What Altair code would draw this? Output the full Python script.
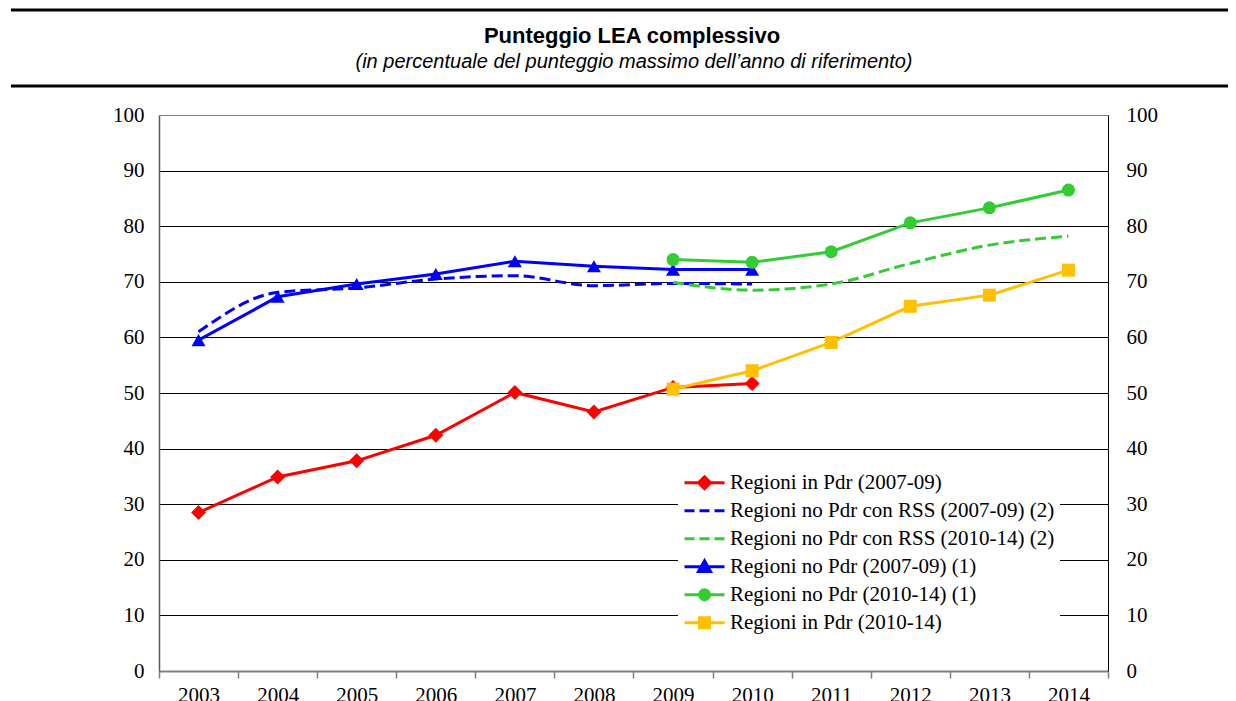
import altair as alt
import pandas as pd

# ---------------- data ----------------
years = ["2003", "2004", "2005", "2006", "2007", "2008",
         "2009", "2010", "2011", "2012", "2013", "2014"]
years_a = years[:8]      # 2003-2010
years_b = years[6:]      # 2009-2014

pdr_0709 = [28.5, 34.9, 37.8, 42.4, 50.1, 46.6, 51.0, 51.7]
nopdr_rss_0709 = [61.0, 68.1, 68.9, 70.5, 71.1, 69.3, 69.7, 69.6]
nopdr_rss_1014 = [69.9, 68.5, 69.6, 73.3, 76.6, 78.2]
nopdr_0709 = [59.5, 67.3, 69.6, 71.4, 73.7, 72.8, 72.2, 72.2]
nopdr_1014 = [74.0, 73.5, 75.4, 80.6, 83.3, 86.5]
pdr_1014 = [50.7, 54.0, 59.1, 65.6, 67.6, 72.1]

names = [
    "Regioni in Pdr (2007-09)",
    "Regioni no Pdr con RSS (2007-09) (2)",
    "Regioni no Pdr con RSS (2010-14) (2)",
    "Regioni no Pdr (2007-09) (1)",
    "Regioni no Pdr (2010-14) (1)",
    "Regioni in Pdr (2010-14)",
]
colors = ["#FF0000", "#0000FF", "#33CC33", "#0000FF", "#33CC33", "#FFC000"]

title_text = "Punteggio LEA complessivo"
subtitle_text = "(in percentuale del punteggio massimo dell\u2019anno di riferimento)"
y_ticks = list(range(0, 101, 10))

# legend symbols: line + marker (custom paths, unit = half symbol width)
p_line = "M-1,0L1,0"
p_dash = "M-1,0H-0.5M-0.25,0H0.25M0.5,0H1"
legend_paths = [
    p_line + "M0,-0.3L0.3,0L0,0.3L-0.3,0Z",
    p_dash,
    p_dash,
    p_line + "M0,-0.3L0.3,0.24L-0.3,0.24Z",
    p_line + "M-0.25,0A0.25,0.25 0 1,0 0.25,0A0.25,0.25 0 1,0 -0.25,0Z",
    p_line + "M-0.25,-0.25H0.25V0.25H-0.25Z",
]

SERIF = "Liberation Serif"
SANS = "Liberation Sans"
FS = 21

# ---------------- scales / axes ----------------
xscale = alt.Scale(type="band", domain=years, paddingInner=0, paddingOuter=0)
xaxis = alt.Axis(title=None, labelAngle=0, grid=False, tickBand="extent",
                 domainColor="#808080", domainWidth=2, tickColor="#808080",
                 tickWidth=1.5, tickSize=7, labelPadding=6, labelFont=SERIF,
                 labelFontSize=FS, labelColor="black")
yscale = alt.Scale(domain=[0, 100], nice=False, zero=True)
yaxis_left = alt.Axis(title=None, values=y_ticks, grid=True,
                      gridColor={"condition": {"test": "datum.value === 100 || datum.value === 0",
                                               "value": "#808080"}, "value": "#000000"},
                      gridWidth=1, ticks=False, domainColor="#595959", domainWidth=1.5,
                      labelPadding=15, labelFont=SERIF, labelFontSize=FS, labelColor="black")
yaxis_right = alt.Axis(title=None, orient="right", values=y_ticks, grid=False,
                       ticks=False, domainColor="#000000", domainWidth=1,
                       labelPadding=18, labelFont=SERIF, labelFontSize=FS,
                       labelColor="black", labelAlign="left")


def series_df(xs, vals):
    return pd.DataFrame({"year": xs, "v": vals})


def line_layer(xs, vals, color, dash=None, interp="linear"):
    kw = dict(color=color, strokeWidth=3, interpolate=interp)
    if dash:
        kw["strokeDash"] = dash
    return alt.Chart(series_df(xs, vals)).mark_line(**kw).encode(
        x=alt.X("year:O", scale=xscale, axis=xaxis),
        y=alt.Y("v:Q", scale=yscale, axis=yaxis_left),
    )


def point_layer(xs, vals, color, shape, size):
    return alt.Chart(series_df(xs, vals)).mark_point(
        filled=True, color=color, shape=shape, size=size, opacity=1
    ).encode(
        x=alt.X("year:O", scale=xscale, axis=xaxis),
        y=alt.Y("v:Q", scale=yscale, axis=yaxis_left),
    )


data_layers = [
    line_layer(years_a, pdr_0709, colors[0]),
    point_layer(years_a, pdr_0709, colors[0], "diamond", 225),
    line_layer(years_a, nopdr_rss_0709, colors[1], dash=[11, 5], interp="monotone"),
    line_layer(years_b, nopdr_rss_1014, colors[2], dash=[11, 5], interp="monotone"),
    line_layer(years_a, nopdr_0709, colors[3]),
    point_layer(years_a, nopdr_0709, colors[3], "triangle-up", 196),
    line_layer(years_b, nopdr_1014, colors[4]),
    point_layer(years_b, nopdr_1014, colors[4], "circle", 169),
    line_layer(years_b, pdr_1014, colors[5]),
    point_layer(years_b, pdr_1014, colors[5], "square", 169),
]
inner = alt.layer(*data_layers)

# legend (and right axis) layer: points lie outside the domain and are clipped
leg = alt.Legend(title=None, orient="none", legendX=519, legendY=349, padding=5,
                 fillColor="white", labelFont=SERIF, labelFontSize=FS,
                 labelColor="black", symbolSize=1600, symbolStrokeWidth=3,
                 clipHeight=27.5, rowPadding=0, labelOffset=4, labelLimit=500)
legend_df = pd.DataFrame({"series": names, "year": [years[0]] * len(names),
                          "v": [-50] * len(names)})
legend_layer = alt.Chart(legend_df).mark_point(
    filled=True, clip=True, strokeWidth=3, opacity=1
).encode(
    x=alt.X("year:O", scale=xscale, axis=xaxis),
    y=alt.Y("v:Q", scale=alt.Scale(domain=[0, 100], nice=False), axis=yaxis_right),
    color=alt.Color("series:N", scale=alt.Scale(domain=names, range=colors), legend=leg),
    stroke=alt.Stroke("series:N", scale=alt.Scale(domain=names, range=colors), legend=leg),
    shape=alt.Shape("series:N", scale=alt.Scale(domain=names, range=legend_paths), legend=leg),
)

# header: title, subtitle, rules
title_df = pd.DataFrame({"t": [title_text]})
sub_df = pd.DataFrame({"t": [subtitle_text]})
title_layer = alt.Chart(title_df).mark_text(
    font=SANS, fontWeight="bold", fontSize=22, align="center", baseline="middle", color="black"
).encode(text="t:N", x=alt.value(473), y=alt.value(-79))
sub_layer = alt.Chart(sub_df).mark_text(
    font=SANS, fontStyle="italic", fontSize=20, align="center", baseline="middle", color="black"
).encode(text="t:N", x=alt.value(475), y=alt.value(-53))
rule_top = alt.Chart(title_df).mark_rule(color="black", strokeWidth=3).encode(
    x=alt.value(-148), x2=alt.value(1080), y=alt.value(-105))
rule_mid = alt.Chart(title_df).mark_rule(color="black", strokeWidth=3).encode(
    x=alt.value(-148), x2=alt.value(1080), y=alt.value(-29))

chart = alt.layer(
    inner, legend_layer, title_layer, sub_layer, rule_top, rule_mid
).resolve_scale(y="independent").properties(
    width=949, height=556,
    padding={"left": 151, "top": 107, "right": 120, "bottom": 40},
    autosize=alt.AutoSizeParams(type="none"),
    background="white",
).configure_view(stroke=None)

chart.save("out.html", embed_options={"renderer": "svg", "actions": False})
